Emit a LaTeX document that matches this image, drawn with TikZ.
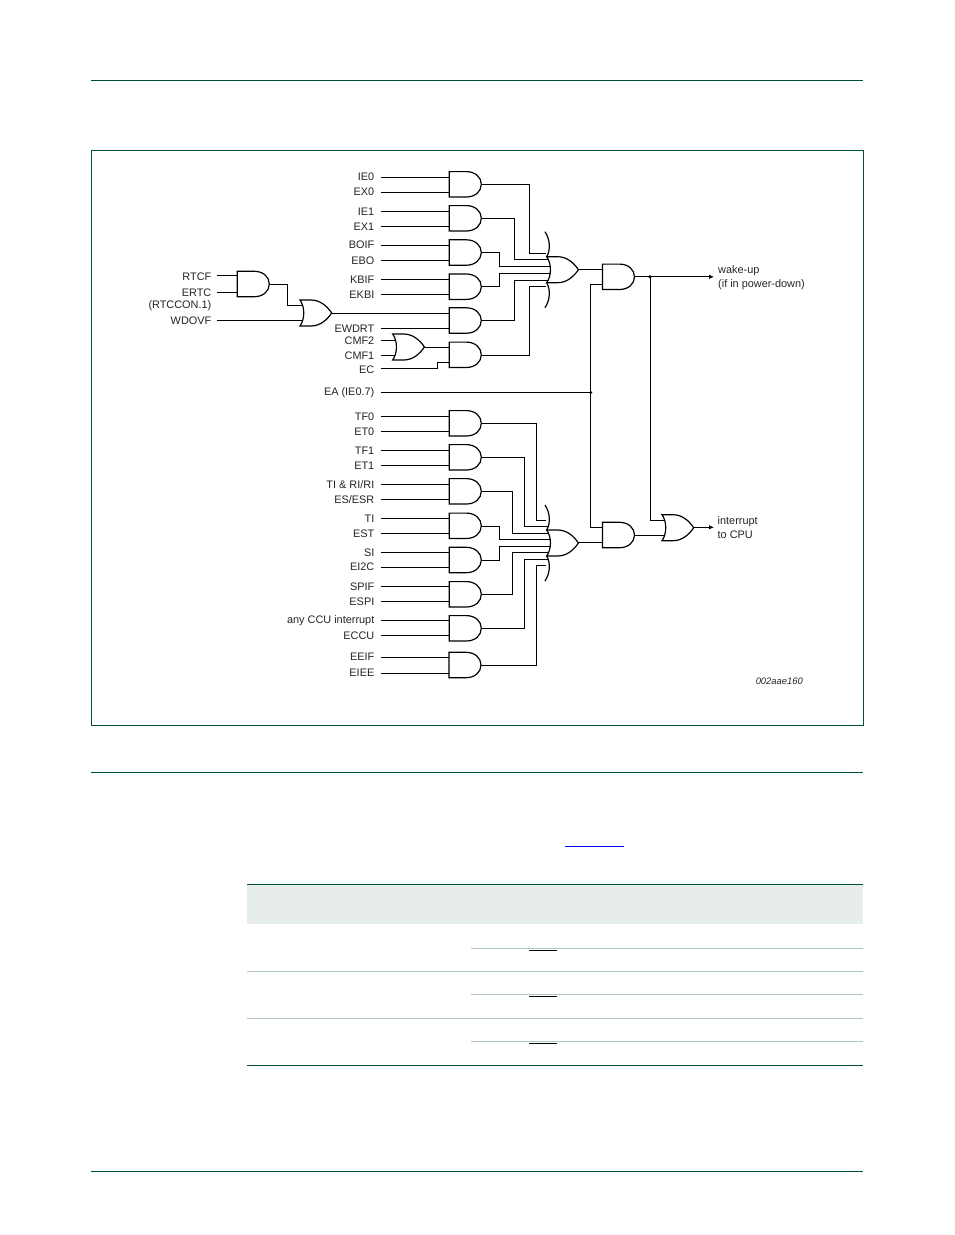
\documentclass[tikz,border=0pt]{standalone}
\usepackage{fontspec}
\usetikzlibrary{arrows.meta}
\setmainfont{Liberation Sans}
\definecolor{nxgreen}{HTML}{00513C}
\definecolor{nxfill}{HTML}{E7EDED}
\definecolor{nxline}{HTML}{B0C6C0}
\newcommand{\andgate}[3]{% name, left x, center y
  \coordinate (#1i) at (#2,#3);
  \coordinate (#1o) at (#2+32,#3);
  \draw[gate] (#2+17,#3-12.7) -- (#2,#3-12.7) -- (#2,#3+12.7) -- (#2+17,#3+12.7)
    .. controls (#2+26,#3+12.7) and (#2+32,#3+7) .. (#2+32,#3)
    .. controls (#2+32,#3-7) and (#2+26,#3-12.7) .. (#2+17,#3-12.7) -- cycle;}
\newcommand{\orgate}[3]{% name, left tip x, center y
  \coordinate (#1o) at (#2+31.7,#3);
  \draw[gate] (#2,#3-13) .. controls (#2+5,#3-6) and (#2+5,#3+6) .. (#2,#3+13)
    -- (#2+11,#3+13) .. controls (#2+20,#3+13) and (#2+27,#3+7) .. (#2+31.7,#3)
    .. controls (#2+27,#3-7) and (#2+20,#3-13) .. (#2+11,#3-13) -- cycle;}
\newcommand{\wings}[2]{% left tip x, center y
  \draw[gate,fill=none] (#1-1.7,#2-38) .. controls (#1+3.5,#2-30) and (#1+4,#2-20) .. (#1,#2-13);
  \draw[gate,fill=none] (#1,#2+13) .. controls (#1+4,#2+20) and (#1+3.5,#2+30) .. (#1-1.7,#2+38);}
\tikzset{
  x=1pt,y=-1pt,
  wire/.style={line width=0.95pt,black},
  gate/.style={line width=1.2pt,black,fill=white,line join=miter},
  lab/.style={anchor=east,inner sep=0pt,yshift=-0.5pt,font=\fontsize{10.9}{12}\selectfont,text=black!85},
  labl/.style={anchor=west,inner sep=0pt,yshift=-0.5pt,font=\fontsize{10.9}{13.5}\selectfont,text=black!85,align=left},
  dotc/.style={circle,fill=black,inner sep=0pt,minimum size=3.4pt},
  rule/.style={line width=1pt,nxgreen},
  thin rule/.style={line width=1pt,nxline},
}
\begin{document}
\begin{tikzpicture}
\useasboundingbox (0,0) rectangle (954,1235);
\fill[white] (0,0) rectangle (954,1235);
% page rules
\draw[rule] (91,80.5) -- (863,80.5);
\draw[rule] (91,772.5) -- (863,772.5);
\draw[rule] (91,1171.5) -- (863,1171.5);
% frame
\draw[rule] (91.5,150.5) rectangle (863.5,725.5);
% table
\fill[nxfill] (247,884.5) rectangle (863,924);
\draw[rule] (247,884.5) -- (863,884.5);
\draw[thin rule] (471,948.5) -- (863,948.5);
\draw[thin rule] (247,971.5) -- (863,971.5);
\draw[thin rule] (471,994.5) -- (863,994.5);
\draw[thin rule] (247,1018.5) -- (863,1018.5);
\draw[thin rule] (471,1041.5) -- (863,1041.5);
\draw[rule] (247,1065.5) -- (863,1065.5);
\draw[line width=1pt] (529,950.5) -- (557,950.5);
\draw[line width=1pt] (529,996.5) -- (557,996.5);
\draw[line width=1pt] (529,1043.5) -- (557,1043.5);
\draw[line width=1pt,blue] (565,846.5) -- (624,846.5);
% named points
\foreach \n/\x/\y in {a/381/177.3,b/381/192.5,c/381/211.3,d/381/226.3,e/381/245,f/381/260,g/381/279,h/381/294,
  i/381/328.3,j/381/340,k/381/355,l/381/368.3,m/381/392.5,
  n/381/416.3,o/381/431.3,p/381/450.3,q/381/465.3,r/381/484.3,s/381/499.3,t/381/518.3,u/381/533.3,
  v/381/552.3,w/381/567.5,xa/381/586.3,xb/381/601.5,xc/381/620.3,xd/381/635.3,xe/381/657,xf/381/673,
  ra/216.7/275.7,rb/216.7/292.3,rc/216.7/320.3}
  {\coordinate (p\n) at (\x,\y);}
% input wires
\foreach \n in {a,b,c,d,e,f,g,h,i,n,o,p,q,r,s,t,u,v,w,xa,xb,xc,xd,xe,xf}
  {\draw[wire] (p\n) -- (455,0 |- p\n);}
\foreach \n in {j,k} {\draw[wire] (p\n) -- (400,0 |- p\n);}
\draw[wire] (pl) -- (437.7,368.3) -- (437.7,362.3) -- (455,362.3);
\draw[wire] (420,347.3) -- (455,347.3);
\draw[wire] (pra) -- (245,275.7);
\draw[wire] (prb) -- (245,292.3);
\draw[wire] (prc) -- (310,320.3);
\draw[wire] (269,284.3) -- (287.3,284.3) -- (287.3,305) -- (310,305);
\draw[wire] (325,313.5) -- (455,313.5);
% upper OR collectors
\draw[wire] (481,184.3) -- (529,184.3) -- (529,253.3) -- (546,253.3);
\draw[wire] (481,218.3) -- (514.7,218.3) -- (514.7,259.3) -- (551,259.3);
\draw[wire] (481,252.3) -- (499.3,252.3) -- (499.3,266.3) -- (555,266.3);
\draw[wire] (481,286.7) -- (499.3,286.7) -- (499.3,273.3) -- (555,273.3);
\draw[wire] (481,320.3) -- (514.7,320.3) -- (514.7,280) -- (551,280);
\draw[wire] (481,355) -- (529,355) -- (529,286.7) -- (546,286.7);
% lower OR collectors
\draw[wire] (481,423.3) -- (536.3,423.3) -- (536.3,520.3) -- (546,520.3);
\draw[wire] (481,457.3) -- (524.3,457.3) -- (524.3,526.3) -- (549,526.3);
\draw[wire] (481,491.3) -- (512.7,491.3) -- (512.7,533.3) -- (551,533.3);
\draw[wire] (481,526) -- (499.3,526) -- (499.3,539.3) -- (555,539.3);
\draw[wire] (481,560.3) -- (499.3,560.3) -- (499.3,546.3) -- (555,546.3);
\draw[wire] (481,594.3) -- (512.7,594.3) -- (512.7,552.3) -- (551,552.3);
\draw[wire] (481,628.3) -- (524.3,628.3) -- (524.3,559.3) -- (549,559.3);
\draw[wire] (481,665.3) -- (536.3,665.3) -- (536.3,565.3) -- (546,565.3);
% enable + outputs
\draw[wire] (pm) -- (590.7,392.5);
\draw[wire] (608,284.3) -- (590.7,284.3) -- (590.7,527.3) -- (608,527.3);
\node[dotc] (ea) at (590.7,392.5) {};
\draw[wire] (575,269.3) -- (608,269.3);
\draw[wire] (575,542.3) -- (608,542.3);
\draw[wire] (630,535.3) -- (670,535.3);
\draw[wire] (650,276.8) -- (650,520) -- (670,520);
\coordinate (wk) at (714,276.8);
\coordinate (ir) at (714,527.3);
\draw[wire,-{Latex[length=5pt,width=4.5pt]}] (630,276.8) -- (wk);
\draw[wire,-{Latex[length=5pt,width=4.5pt]}] (690,527.3) -- (ir);
\node[dotc] (wd) at (650,276.8) {};
% gates
\andgate{g1}{449.3}{184.3}
\andgate{g2}{449.3}{218.3}
\andgate{g3}{449.3}{252.5}
\andgate{g4}{449.3}{286.7}
\andgate{g5}{449.3}{320.5}
\andgate{g6}{449.3}{354.8}
\andgate{g7}{449.3}{423.3}
\andgate{g8}{449.3}{457.3}
\andgate{g9}{449.3}{491.3}
\andgate{g10}{449.3}{525.8}
\andgate{g11}{449.3}{560}
\andgate{g12}{449.3}{594.3}
\andgate{g13}{449.3}{628.3}
\andgate{g14}{449}{665}
\andgate{g15}{237.3}{284}
\andgate{g16}{602.5}{276.8}
\andgate{g17}{602.5}{535}
\orgate{o1}{300}{313}
\orgate{o2}{392.7}{347}
\orgate{o3}{546.7}{269.7}
\orgate{o4}{546.7}{543}
\orgate{o5}{662}{527.7}
\wings{546.7}{269.7}
\wings{546.7}{543}
% labels
\foreach \t/\y in {{IE0}/176,{EX0}/191.5,{IE1}/211,{EX1}/226,{BOIF}/244,{EBO}/260,{KBIF}/279,{EKBI}/294,{EWDRT}/328,{CMF2}/340,{CMF1}/355,{EC}/369,{EA (IE0.7)}/392.5,
  {TF0}/416.5,{ET0}/431.5,{TF1}/450.5,{ET1}/465,{TI \& RI/RI}/484.5,{ES/ESR}/499,{TI}/518.5,{EST}/533,{SI}/552,{EI2C}/566.5,{SPIF}/586.5,{ESPI}/601,{any CCU interrupt}/620.5,{ECCU}/635,{EEIF}/656.5,{EIEE}/672.5}
  {\node[lab] at (374.5,\y) {\t};}
\foreach \t/\y in {{RTCF}/276,{ERTC}/292,{(RTCCON.1)}/305,{WDOVF}/320}
  {\node[lab] at (211.5,\y) {\t};}
\node[labl] (wkl) at (718,277) {wake-up\\(if in power-down)};
\node[labl] (irl) at (717.5,527) {interrupt\\to CPU};
\node[anchor=east,inner sep=0pt,yshift=-0.5pt,font=\fontsize{9.4}{11}\selectfont\itshape,text=black!85] (id) at (803,680.5) {002aae160};
\end{tikzpicture}
\end{document}
